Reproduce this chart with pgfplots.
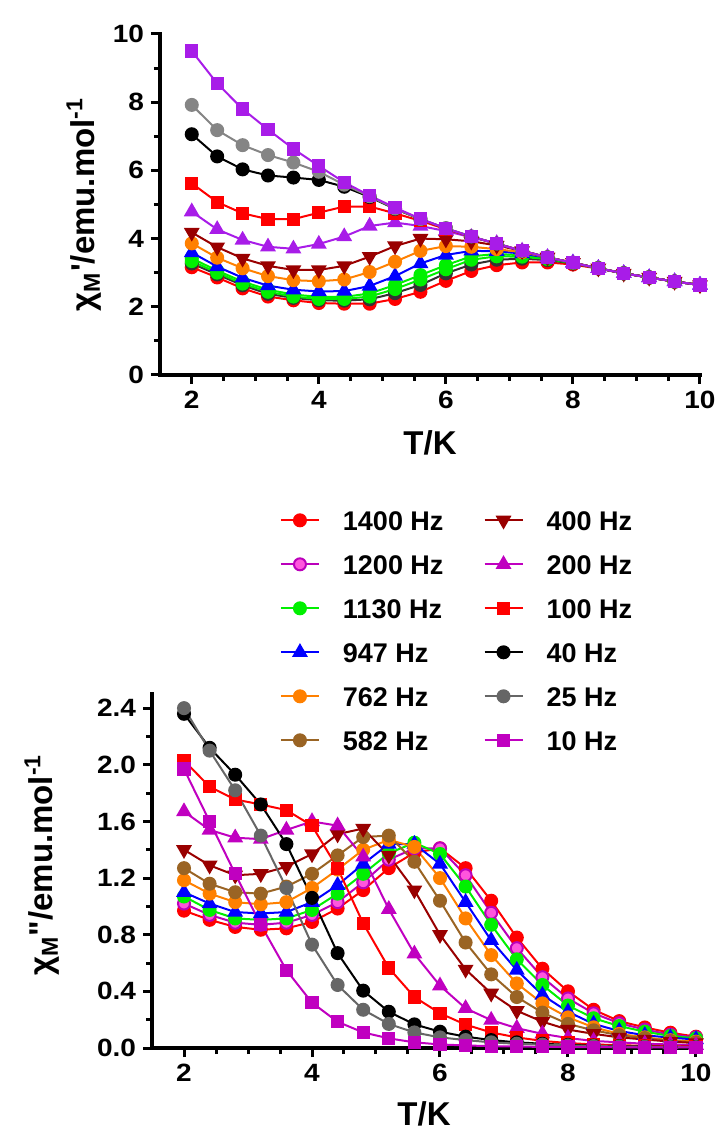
\documentclass[border=0pt]{standalone}
\usepackage{fontspec}
\setmainfont{Liberation Sans}
\newfontfamily\tickfont{Liberation Sans}[FakeStretch=1.12]
\usepackage{pgfplots}
\usepackage{pgfplotstable}
\pgfplotsset{compat=1.18}
\newcommand\labfont{\bfseries\fontsize{16.5}{16.5}\selectfont}

\definecolor{cred}{HTML}{FF0000}
\definecolor{cpinkline}{HTML}{BB00BB}
\definecolor{cpinkfill}{HTML}{FF55DD}
\definecolor{cgreen}{HTML}{00F000}
\definecolor{cblue}{HTML}{0000FF}
\definecolor{corange}{HTML}{FF8000}
\definecolor{cbrown}{HTML}{9A6424}
\definecolor{cdarkred}{HTML}{990000}
\definecolor{cmag}{HTML}{C000C0}
\definecolor{cgray}{HTML}{666666}
\definecolor{cviolet}{HTML}{A81CE8}
\definecolor{cdark}{HTML}{333333}

% chi' (top panel)
\pgfplotstableread{
T    a1400 adark agrb agr  a947 a762 a400 a200 a100 a40  a25  a10
2.0  3.16  3.27  3.34 3.42 3.59 3.86 4.18 4.79 5.62 7.06 7.92 9.50
2.4  2.86  2.95  3.00 3.06 3.18 3.44 3.75 4.27 5.07 6.41 7.18 8.55
2.8  2.54  2.63  2.68 2.74 2.85 3.13 3.42 3.96 4.74 6.03 6.74 7.80
3.2  2.30  2.38  2.44 2.50 2.62 2.90 3.20 3.76 4.57 5.85 6.45 7.20
3.6  2.19  2.26  2.30 2.36 2.50 2.78 3.08 3.70 4.57 5.79 6.23 6.63
4.0  2.11  2.19  2.23 2.29 2.45 2.75 3.08 3.84 4.76 5.72 5.96 6.13
4.4  2.09  2.18  2.23 2.29 2.46 2.80 3.20 4.06 4.94 5.52 5.58 5.65
4.8  2.09  2.22  2.30 2.39 2.61 3.02 3.47 4.37 4.94 5.22 5.24 5.26
5.2  2.23  2.40  2.52 2.64 2.90 3.32 3.78 4.47 4.74 4.87 4.88 4.91
5.6  2.44  2.64  2.80 2.93 3.27 3.64 4.00 4.37 4.52 4.57 4.57 4.58
6.0  2.76  2.98  3.10 3.22 3.52 3.78 3.98 4.22 4.28 4.30 4.30 4.30
6.4  3.05  3.24  3.38 3.48 3.64 3.76 3.92 4.04 4.05 4.06 4.06 4.06
6.8  3.22  3.38  3.48 3.55 3.63 3.69 3.80 3.86 3.85 3.85 3.85 3.85
7.2  3.30  3.41  3.47 3.51 3.56 3.60 3.64 3.64 3.64 3.64 3.64 3.64
7.6  3.30  3.37  3.40 3.42 3.44 3.45 3.45 3.45 3.45 3.45 3.45 3.45
8.0  3.24  3.27  3.28 3.29 3.29 3.29 3.29 3.29 3.29 3.29 3.29 3.29
8.4  3.12  3.13  3.13 3.13 3.13 3.13 3.13 3.13 3.13 3.13 3.13 3.13
8.8  2.98  2.98  2.98 2.98 2.98 2.98 2.98 2.98 2.98 2.98 2.98 2.98
9.2  2.86  2.86  2.86 2.86 2.86 2.86 2.86 2.86 2.86 2.86 2.86 2.86
9.6  2.74  2.74  2.74 2.74 2.74 2.74 2.74 2.74 2.74 2.74 2.74 2.74
10.0 2.64  2.64  2.64 2.64 2.64 2.64 2.64 2.64 2.64 2.64 2.64 2.64
}\realdata

% chi'' (bottom panel)
\pgfplotstableread{
T    f1400 f1200 f1130 f947  f762  f582  f400  f200  f100  f40   f25   f10
2.0  0.970 1.020 1.070 1.100 1.185 1.270 1.400 1.670 2.030 2.360 2.400 1.970
2.4  0.905 0.940 0.975 1.020 1.090 1.160 1.290 1.540 1.845 2.120 2.100 1.600
2.8  0.855 0.885 0.915 0.960 1.030 1.100 1.220 1.485 1.755 1.930 1.820 1.230
3.2  0.835 0.870 0.905 0.950 1.015 1.090 1.230 1.475 1.720 1.720 1.500 0.870
3.6  0.845 0.885 0.915 0.960 1.030 1.140 1.280 1.540 1.680 1.440 1.130 0.550
4.0  0.890 0.940 0.975 1.030 1.130 1.230 1.370 1.600 1.570 1.060 0.730 0.320
4.4  0.985 1.030 1.090 1.150 1.260 1.360 1.510 1.570 1.270 0.670 0.445 0.185
4.8  1.115 1.170 1.230 1.300 1.400 1.490 1.550 1.350 0.880 0.405 0.270 0.110
5.2  1.270 1.330 1.375 1.440 1.470 1.500 1.360 0.980 0.565 0.256 0.170 0.068
5.6  1.380 1.410 1.450 1.440 1.420 1.315 1.115 0.665 0.360 0.167 0.110 0.040
6.0  1.410 1.410 1.370 1.300 1.200 1.040 0.800 0.440 0.245 0.115 0.075 0.025
6.4  1.270 1.220 1.140 1.030 0.915 0.745 0.555 0.280 0.165 0.080 0.056 0.018
6.8  1.040 0.955 0.870 0.760 0.656 0.520 0.386 0.197 0.110 0.056 0.040 0.013
7.2  0.780 0.705 0.626 0.550 0.456 0.360 0.263 0.140 0.075 0.040 0.030 0.010
7.6  0.560 0.500 0.445 0.374 0.315 0.250 0.186 0.100 0.050 0.030 0.024 0.008
8.0  0.400 0.350 0.300 0.256 0.216 0.170 0.130 0.070 0.035 0.022 0.018 0.007
8.4  0.270 0.245 0.210 0.170 0.146 0.125 0.100 0.050 0.025 0.017 0.014 0.006
8.8  0.190 0.175 0.155 0.120 0.100 0.090 0.075 0.040 0.020 0.013 0.011 0.005
9.2  0.145 0.130 0.115 0.090 0.075 0.070 0.060 0.030 0.015 0.010 0.009 0.005
9.6  0.108 0.095 0.085 0.073 0.055 0.050 0.045 0.025 0.012 0.008 0.007 0.004
10.0 0.080 0.075 0.068 0.060 0.045 0.040 0.035 0.020 0.010 0.007 0.006 0.004
}\imagdata

\pgfplotsset{
  prism/.style={
    scale only axis, clip=false,
    axis lines=left,
    axis line style={-, line width=2pt, line cap=rect},
    tick align=outside,
    major tick length=4.5pt, minor tick length=3pt,
    tick style={black, line width=1.5pt},
    xmin=1.5, xmax=10, xtick={2,4,6,8,10}, minor x tick num=3,
    tick label style={font=\tickfont\bfseries\fontsize{12.5}{12.5}\selectfont},
    /pgf/number format/assume math mode=true,
  },
  ser/.style={line width=1pt, mark size=3pt, mark options={solid}},
  s1400/.style={ser, color=cred, mark=*},
  s1200/.style={ser, color=cpinkline, mark=*, mark options={fill=cpinkfill, draw=cpinkline}},
  s1130/.style={ser, color=cgreen, mark=*},
  s947/.style={ser, color=cblue, mark=triangle*, mark size=3.6pt},
  s762/.style={ser, color=corange, mark=*},
  s582/.style={ser, color=cbrown, mark=*},
  s400/.style={ser, color=cdarkred, mark=triangle*, mark size=3.6pt, mark options={rotate=180}},
  s200/.style={ser, color=cmag, mark=triangle*, mark size=3.6pt},
  s100/.style={ser, color=cred, mark=square*, mark size=2.8pt},
  s40/.style={ser, color=black, mark=*},
  s25/.style={ser, color=cgray, mark=*},
  s10/.style={ser, color=cmag, mark=square*, mark size=2.8pt},
}

\begin{document}
\begin{tikzpicture}
\path[use as bounding box] (0,0) rectangle (359.5pt,570pt);

% top panel: chi'
\begin{axis}[
  prism,
  at={(80pt,382.5pt)}, anchor=south west,
  width=270pt, height=170.5pt,
  ymin=0, ymax=10, ytick={0,2,4,6,8,10}, minor y tick num=1,
  xlabel={T/K},
  ylabel={χ\textsubscript{M}\textquotesingle/emu.mol\textsuperscript{-1}},
  every axis x label/.style={font=\labfont, at={(rel axis cs:0.5,0)}, anchor=center, yshift=-34pt},
  every axis y label/.style={font=\labfont, at={(rel axis cs:0,0.5)}, anchor=center, xshift=-38pt, rotate=90},
]
\addplot[s1400] table[x=T,y=a1400]{\realdata};
\addplot[ser, color=cdark, mark=*] table[x=T,y=adark]{\realdata};
\addplot[s1130] table[x=T,y=agrb]{\realdata};
\addplot[s1130] table[x=T,y=agr]{\realdata};
\addplot[s947] table[x=T,y=a947]{\realdata};
\addplot[s762] table[x=T,y=a762]{\realdata};
\addplot[s400] table[x=T,y=a400]{\realdata};
\addplot[ser, color=cviolet, mark=triangle*, mark size=3.6pt] table[x=T,y=a200]{\realdata};
\addplot[s100] table[x=T,y=a100]{\realdata};
\addplot[s40] table[x=T,y=a40]{\realdata};
\addplot[ser, color=cgray!80, mark=*] table[x=T,y=a25]{\realdata};
\addplot[ser, color=cviolet, mark=square*, mark size=2.8pt] table[x=T,y=a10]{\realdata};
\end{axis}

% bottom panel: chi''
\begin{axis}[
  prism,
  at={(76pt,46pt)}, anchor=south west,
  width=272pt, height=177pt,
  ymin=0, ymax=2.5, ytick={0,0.4,0.8,1.2,1.6,2.0,2.4}, minor y tick num=1,
  yticklabel style={/pgf/number format/.cd, fixed, fixed zerofill, precision=1},
  xlabel={T/K},
  ylabel={χ\textsubscript{M}\textquotedbl/emu.mol\textsuperscript{-1}},
  every axis x label/.style={font=\labfont, at={(rel axis cs:0.5,0)}, anchor=center, yshift=-33pt},
  every axis y label/.style={font=\labfont, at={(rel axis cs:0,0.517)}, anchor=center, xshift=-55pt, rotate=90},
  legend columns=2,
  legend image code/.code={\draw[mark repeat=2,mark phase=2,#1] plot coordinates {(0pt,0pt)(9.5pt,0pt)(19pt,0pt)};},
  legend style={draw=none, fill=none, inner sep=0pt,
    at={(0.2345,1.520)}, anchor=north west,
    font=\bfseries\fontsize{13.5}{13.5}\selectfont,
    nodes={inner sep=0pt, text height=10pt, text depth=0pt},
    row sep=12pt,
    /tikz/every odd column/.append style={column sep=11.5pt},
    /tikz/every even column/.append style={column sep=20pt}},
  legend cell align=left,
]
\addplot[s1400, forget plot] table[x=T,y=f1400]{\imagdata};
\addplot[s1200, forget plot] table[x=T,y=f1200]{\imagdata};
\addplot[s1130, forget plot] table[x=T,y=f1130]{\imagdata};
\addplot[s947, forget plot] table[x=T,y=f947]{\imagdata};
\addplot[s762, forget plot] table[x=T,y=f762]{\imagdata};
\addplot[s582, forget plot] table[x=T,y=f582]{\imagdata};
\addplot[s400, forget plot] table[x=T,y=f400]{\imagdata};
\addplot[s200, forget plot] table[x=T,y=f200]{\imagdata};
\addplot[s100, forget plot] table[x=T,y=f100]{\imagdata};
\addplot[s40, forget plot] table[x=T,y=f40]{\imagdata};
\addplot[s25, forget plot] table[x=T,y=f25]{\imagdata};
\addplot[s10, forget plot] table[x=T,y=f10]{\imagdata};

\addlegendimage{s1400}\addlegendentry{1400 Hz}
\addlegendimage{s400}\addlegendentry{400 Hz}
\addlegendimage{s1200}\addlegendentry{1200 Hz}
\addlegendimage{s200}\addlegendentry{200 Hz}
\addlegendimage{s1130}\addlegendentry{1130 Hz}
\addlegendimage{s100}\addlegendentry{100 Hz}
\addlegendimage{s947}\addlegendentry{947 Hz}
\addlegendimage{s40}\addlegendentry{40 Hz}
\addlegendimage{s762}\addlegendentry{762 Hz}
\addlegendimage{s25}\addlegendentry{25 Hz}
\addlegendimage{s582}\addlegendentry{582 Hz}
\addlegendimage{s10}\addlegendentry{10 Hz}
\end{axis}
\end{tikzpicture}
\end{document}
